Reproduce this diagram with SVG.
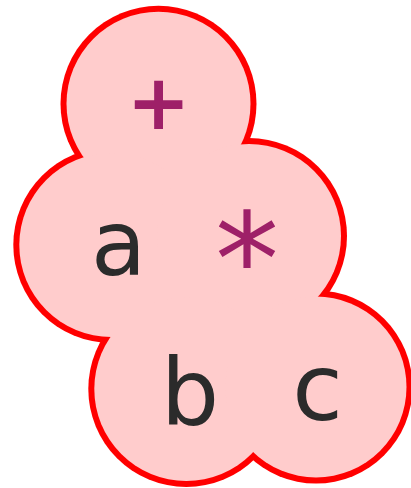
<svg xmlns="http://www.w3.org/2000/svg" width="411" height="488" viewBox="0 0 411 488">
<style>
.rim{fill:#ff0000}
.body{fill:#ffcccc}
.lbl{font-family:"DejaVu Sans",sans-serif;text-anchor:middle}
.var{fill:#2b2b2b}
.op{fill:#9e2068}
</style>
<rect width="411" height="488" fill="#ffffff"/>
<g id="blob">
<g id="rims">
<circle class="rim" cx="158.5" cy="103.8" r="98"/>
<circle class="rim" cx="111.3" cy="245" r="98"/>
<circle class="rim" cx="249" cy="236" r="98"/>
<circle class="rim" cx="186.3" cy="389" r="98"/>
<circle class="rim" cx="316" cy="387" r="96.5"/>
</g>
<g id="bodies">
<circle class="body" cx="158.5" cy="103.8" r="92"/>
<circle class="body" cx="111.3" cy="245" r="92"/>
<circle class="body" cx="249" cy="236" r="92"/>
<circle class="body" cx="186.3" cy="389" r="92"/>
<circle class="body" cx="316" cy="387" r="90.5"/>
</g>
</g>
<g id="node-plus"><text class="lbl op" x="158.5" y="129" font-size="76" font-weight="bold">+</text></g>
<g id="node-a"><text class="lbl var" x="118.5" y="275" font-size="90">a</text></g>
<g id="node-times"><text class="lbl op" x="247" y="305" font-size="128">*</text></g>
<g id="node-b"><text class="lbl var" x="190" y="425" font-size="92">b</text></g>
<g id="node-c"><text class="lbl var" x="317.5" y="420" font-size="92">c</text></g>
</svg>
